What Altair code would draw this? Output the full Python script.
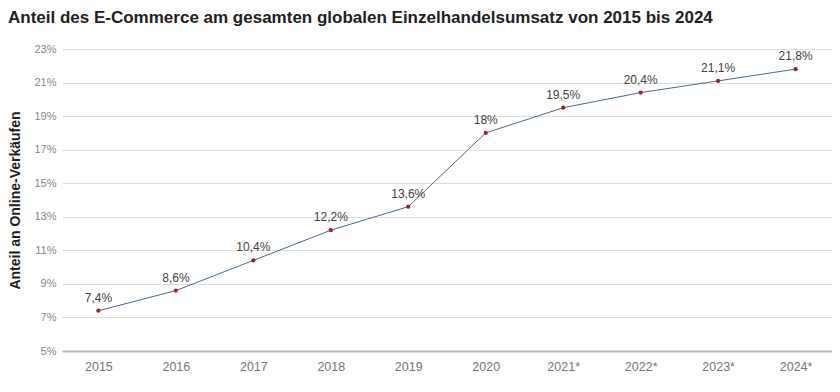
import altair as alt
import pandas as pd

years = ["2015", "2016", "2017", "2018", "2019", "2020", "2021*", "2022*", "2023*", "2024*"]
shares = [7.4, 8.6, 10.4, 12.2, 13.6, 18.0, 19.5, 20.4, 21.1, 21.8]
y_ticks = [5, 7, 9, 11, 13, 15, 17, 19, 21, 23]

df = pd.DataFrame({
    "Jahr": years,
    "Anteil": shares,
    "Label": [f"{v:g}".replace(".", ",") + "%" for v in shares],
})

FONT = "Liberation Sans"

x = alt.X("Jahr:N", sort=years, title=None,
          scale=alt.Scale(type="point", padding=0.47),
          axis=alt.Axis(labelAngle=0, labelColor="#777777", labelFontSize=12.5, labelFont=FONT,
                        ticks=False, domain=True, domainColor="#b8b8b8", domainWidth=2,
                        labelPadding=9))
y = alt.Y("Anteil:Q", title="Anteil an Online-Verkäufen",
          scale=alt.Scale(domain=[5, 23], nice=False, zero=False),
          axis=alt.Axis(values=y_ticks, labelExpr="datum.value + '%'", labelColor="#888888",
                        labelFontSize=11, labelFont=FONT, ticks=False, domain=False,
                        gridColor="#dddddd", labelPadding=6,
                        titleFont=FONT, titleFontSize=14, titleFontWeight="bold",
                        titleColor="#222222", titlePadding=11))

base = alt.Chart(df).encode(x=x, y=y)

line = base.mark_line(color="#4b6a8c", strokeWidth=1)
points = base.mark_circle(color="#9b2335", size=18, opacity=1)
labels = base.mark_text(baseline="bottom", dy=-6, fontSize=12, font=FONT, color="#444444").encode(text="Label:N")

chart = (line + points + labels).properties(
    width=770,
    height=302,
    autosize=alt.AutoSizeParams(type="none"),
    padding={"left": 54, "top": 41, "right": 0, "bottom": 35},
    title=alt.TitleParams(
        "Anteil des E-Commerce am gesamten globalen Einzelhandelsumsatz von 2015 bis 2024",
        anchor="start", frame="group", dx=-54, offset=16,
        font=FONT, fontSize=17, fontWeight="bold", color="#222222",
    ),
).configure_view(stroke=None)

chart.save("out.html", embed_options={"renderer": "svg", "actions": False})
